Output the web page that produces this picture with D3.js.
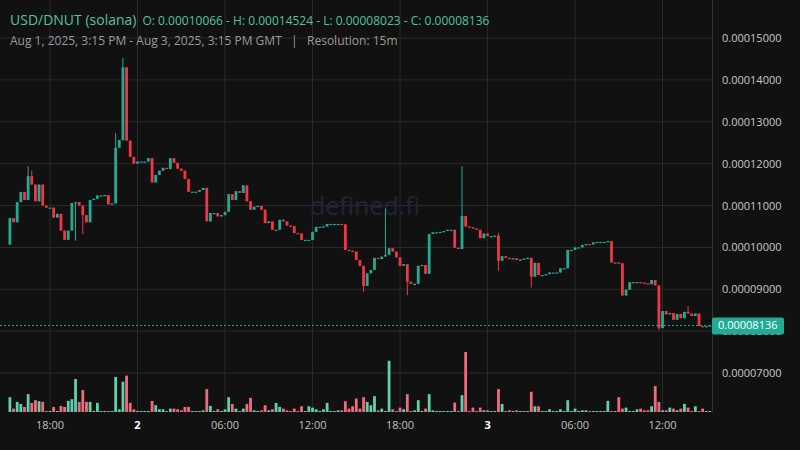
<!DOCTYPE html>
<html><head><meta charset="utf-8">
<script src="https://cdn.jsdelivr.net/npm/d3@7"></script>
<style>body{margin:0;background:#111111;}svg{display:block;font-family:"Open Sans",sans-serif;}</style>
</head><body><svg id="c" width="800" height="450"></svg>
<script>
const firstOpen = 10.066; // in 1e-5 units
const closes = [10.7,10.6,11.08,11.32,11.13,11.7,11.5,11.1,11.5,11.0,10.95,10.95,10.71,10.8,10.4,10.18,10.4,11.06,11.08,11.0,10.77,10.6,11.13,11.16,11.24,11.24,11.25,11.03,11.05,12.38,12.56,14.3,12.55,12.16,12.0,12.05,12.05,12.05,12.13,11.55,11.73,11.83,11.9,11.87,12.13,12.02,11.88,11.83,11.63,11.33,11.33,11.33,11.37,11.42,10.62,10.82,10.82,10.74,10.77,10.85,11.27,11.13,11.34,11.3,11.48,11.1,10.9,10.97,10.99,10.9,10.58,10.62,10.42,10.42,10.66,10.62,10.52,10.51,10.34,10.33,10.18,10.18,10.18,10.37,10.49,10.49,10.5,10.56,10.56,10.56,10.56,10.55,
9.94,9.92,9.9,9.70,9.56,9.08,9.38,9.46,9.75,9.72,9.78,9.82,9.98,9.9,9.76,9.56,9.6,9.18,9.13,9.13,9.56,9.58,9.37,10.32,10.36,10.36,10.37,10.39,10.42,10.42,9.99,9.96,10.75,10.5,10.48,10.45,10.42,10.22,10.33,10.27,10.27,10.28,9.68,9.79,9.75,9.73,9.74,9.70,9.71,9.73,9.75,
9.3,9.63,9.34,9.34,9.36,9.4,9.4,9.4,9.5,9.5,9.94,9.94,10.0,10.0,10.06,10.08,10.07,10.12,10.13,10.13,10.13,10.15,9.64,9.64,9.62,8.85,8.99,9.17,9.17,9.17,9.16,9.14,9.12,9.22,9.09,8.07,8.48,8.4,8.43,8.27,8.41,8.31,8.46,8.42,8.36,8.42,8.12,8.11,8.12,8.136];
// sparse wicks: [index, high, low]
const wicks = [[5,11.94,null],[6,11.84,null],[18,null,10.16],[20,null,10.32],[29,12.73,null],[31,14.524,null],[65,11.4,null],[97,null,8.94],[103,10.93,null],[109,null,8.86],[124,11.94,null],[134,10.35,9.44],[143,null,9.04],[178,null,8.023],[186,8.6,null]];
const volumes = [44,10,30,24,15,53,27,35,32,30,3,3,15,3,18,15,33,38,98,30,65,30,30,3,27,3,3,3,3,104,8,90,108,27,8,3,3,3,3,33,20,8,8,3,10,10,8,5,15,15,3,3,3,5,68,18,3,8,3,8,44,24,10,3,10,24,42,5,3,5,20,5,8,27,15,10,5,3,10,3,17,3,17,13,8,3,8,27,3,3,5,5,32,10,17,40,10,44,30,20,47,5,10,3,152,8,3,13,8,53,3,5,35,3,10,53,5,3,3,3,3,3,28,3,50,178,3,13,3,13,5,5,3,3,68,24,3,5,3,5,3,3,3,60,17,17,3,3,8,3,3,8,3,35,3,10,3,5,5,3,3,3,3,3,33,3,3,44,10,13,3,3,8,10,5,5,17,77,30,5,5,13,10,5,10,24,13,3,17,3,10,3,3];
const yTicks = [7,8,9,10,11,12,13,14,15];
const xTicks = [[11,"18:00"],[35,"2"],[59,"06:00"],[83,"12:00"],[107,"18:00"],[131,"3"],[155,"06:00"],[179,"12:00"]];
const lastPrice = 8.136;

const n = closes.length;
const candles = closes.map((c,i)=>{
  const o = i===0 ? firstOpen : closes[i-1];
  let h = Math.max(o,c), l = Math.min(o,c);
  return {i,o,c,h,l,v:volumes[i]||3};
});
wicks.forEach(([i,h,l])=>{ if(candles[i]){ if(h!=null) candles[i].h=Math.max(h,candles[i].h); if(l!=null) candles[i].l=Math.min(l,candles[i].l);} });

const svg = d3.select("#c");
const PR = 712;
const x = d3.scaleLinear().domain([0,191]).range([9.9, 9.9+3.646*191]);
const y = d3.scaleLinear().domain([7,15]).range([373,38]);
const yv = d3.scaleLinear().domain([0,178]).range([412,352]);
const GREEN="#22ab94", RED="#f23645", GRID="#2a2a2a";

svg.append("rect").attr("width",800).attr("height",450).attr("fill","#111111");
// grid
svg.append("g").selectAll("line").data(yTicks).join("line")
  .attr("x1",0).attr("x2",PR).attr("y1",d=>y(d)).attr("y2",d=>y(d)).attr("stroke",GRID);
svg.append("g").selectAll("line").data(xTicks).join("line")
  .attr("x1",d=>x(d[0])).attr("x2",d=>x(d[0])).attr("y1",0).attr("y2",412).attr("stroke",GRID);
svg.append("line").attr("x1",PR+0.5).attr("x2",PR+0.5).attr("y1",0).attr("y2",412).attr("stroke","#333");
// watermark
svg.append("text").attr("x",365).attr("y",215).attr("text-anchor","middle").attr("font-size",25)
  .attr("fill","#24223a").text("defined.fi");
// volumes
svg.append("g").selectAll("rect").data(candles).join("rect")
  .attr("x",d=>x(d.i)-1.4).attr("width",2.8)
  .attr("y",d=>yv(d.v)).attr("height",d=>412-yv(d.v))
  .attr("fill",d=>d.c>=d.o?"#5fcfae":"#ee6b7b");
// candles
const g = svg.append("g");
g.selectAll("line").data(candles).join("line")
  .attr("x1",d=>x(d.i)).attr("x2",d=>x(d.i)).attr("y1",d=>y(d.h)).attr("y2",d=>y(d.l))
  .attr("stroke",d=>d.c>=d.o?GREEN:RED).attr("stroke-width",1);
g.selectAll("rect").data(candles).join("rect")
  .attr("x",d=>x(d.i)-1.4).attr("width",2.8)
  .attr("y",d=>y(Math.max(d.o,d.c))).attr("height",d=>Math.max(1.2,Math.abs(y(d.o)-y(d.c))))
  .attr("fill",d=>d.c>=d.o?GREEN:RED);
// y labels
svg.append("g").selectAll("text").data(yTicks).join("text")
  .attr("x",722).attr("y",d=>y(d)+4).attr("font-size",11).attr("fill","#c8c8c8")
  .text(d=>(d*1e-5).toFixed(8));
// x labels
svg.append("g").selectAll("text").data(xTicks).join("text")
  .attr("x",d=>x(d[0])).attr("y",429).attr("text-anchor","middle").attr("font-size",11)
  .attr("fill",d=>d[1].length===1?"#ffffff":"#c0c0c0").attr("font-weight",d=>d[1].length===1?"bold":"normal")
  .text(d=>d[1]);
// last price
svg.append("line").attr("x1",0).attr("x2",PR).attr("y1",y(lastPrice)).attr("y2",y(lastPrice))
  .attr("stroke",GREEN).attr("stroke-dasharray","2,2");
svg.append("rect").attr("x",PR).attr("y",y(lastPrice)-8).attr("width",72).attr("height",17).attr("rx",2).attr("fill",GREEN);
svg.append("text").attr("x",PR+6).attr("y",y(lastPrice)+4).attr("font-size",11).attr("fill","#ffffff").text((lastPrice*1e-5).toFixed(8));
// header
const t = svg.append("text").attr("x",10).attr("y",25).attr("fill","#4fc3a1");
t.append("tspan").attr("font-size",14).text("USD/DNUT (solana)");
t.append("tspan").attr("dx",6).attr("font-size",12).text("O: 0.00010066 - H: 0.00014524 - L: 0.00008023 - C: 0.00008136");
svg.append("text").attr("x",10).attr("y",45).attr("font-size",12).attr("fill","#9a9a9a")
  .text("Aug 1, 2025, 3:15 PM - Aug 3, 2025, 3:15 PM GMT   |   Resolution: 15m").attr("xml:space","preserve").style("white-space","pre");
</script></body></html>
